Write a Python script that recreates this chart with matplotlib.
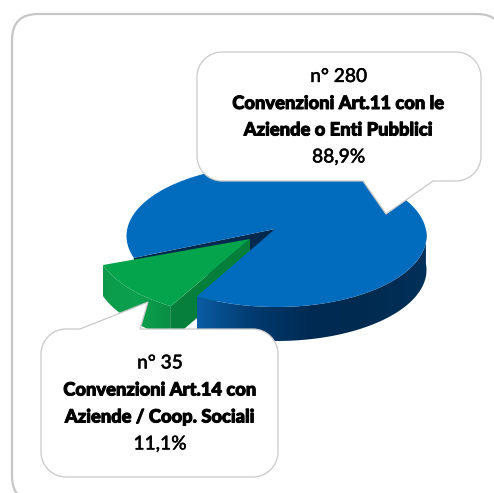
import numpy as np
import matplotlib
matplotlib.use("Agg")
import matplotlib.pyplot as plt
import matplotlib.patheffects as pe
from matplotlib.patches import PathPatch, Polygon, FancyBboxPatch
from matplotlib.path import Path

labels_top = ["n° 280", "Convenzioni Art.11 con le", "Aziende o Enti Pubblici", "88,9%"]
labels_low = ["n° 35", "Convenzioni Art.14 con", "Aziende / Coop. Sociali", "11,1%"]
values = [280, 35]

W, H = 494, 493
CX, CY = 276.5, 236.0
RX, RY = 150.0, 71.0
DEPTH = 34.0
APEX = (275.0, 229.0)
START = 198.0  # angle where the small slice begins
# the pulled out slice is nearer to the viewer, so it comes out bigger
GREEN_APEX = (250.0, 239.0)
GREEN_RX, GREEN_RY = 156.0, 78.0
GREEN_START = 199.5
GREEN_DEPTH = 31.0


def rim(cx, cy, rx, ry, a0, a1, n=120):
    # angles run counter clockwise on the flat pie, y is down on screen
    t = np.radians(np.linspace(a0, a1, n))
    return np.column_stack([cx + rx * np.cos(t), cy - ry * np.sin(t)])


def gradient_fill(ax, pts, x0, x1, colors, zorder):
    poly = Polygon(pts, closed=True, fc="none", ec="none", transform=ax.transData)
    ax.add_patch(poly)
    cmap = matplotlib.colors.LinearSegmentedColormap.from_list("g", colors)
    grad = np.linspace(0, 1, 256).reshape(1, -1)
    im = ax.imshow(grad, cmap=cmap, extent=(x0, x1, H, 0), aspect="auto", zorder=zorder)
    im.set_clip_path(poly)
    ax.set_xlim(0, W)
    ax.set_ylim(H, 0)


def rounded_callout(ax, x0, y0, x1, y1, r, pointer, edge):
    # pointer = (start x, tip, end x), on the top or the bottom edge
    k = 0.55 * r
    p0, tip, p1 = pointer
    v = [(x0 + r, y0)]
    c = [Path.MOVETO]
    if edge == "top":
        v += [(p0, y0), tip, (p1, y0)]
        c += [Path.LINETO] * 3
    v += [(x1 - r, y0), (x1 - r + k, y0), (x1, y0 + r - k), (x1, y0 + r), (x1, y1 - r),
          (x1, y1 - r + k), (x1 - r + k, y1), (x1 - r, y1)]
    c += [Path.LINETO, Path.CURVE4, Path.CURVE4, Path.CURVE4, Path.LINETO,
          Path.CURVE4, Path.CURVE4, Path.CURVE4]
    if edge == "bottom":
        v += [(p1, y1), tip, (p0, y1)]
        c += [Path.LINETO] * 3
    v += [(x0 + r, y1), (x0 + r - k, y1), (x0, y1 - r + k), (x0, y1 - r), (x0, y0 + r),
          (x0, y0 + r - k), (x0 + r - k, y0), (x0 + r, y0)]
    c += [Path.LINETO, Path.CURVE4, Path.CURVE4, Path.CURVE4, Path.LINETO,
          Path.CURVE4, Path.CURVE4, Path.CURVE4]
    ax.add_patch(PathPatch(Path(v, c), fc="white", ec="#c9c9c9", lw=0.9, zorder=10))


def callout_text(ax, x, ys, lines):
    for i, (y, line) in enumerate(zip(ys, lines)):
        bold = i in (1, 2)
        # a thin stroke gets the text as heavy as the reference
        ax.text(x, y, line, ha="center", va="center", color="black", zorder=11,
                family="Lato", weight=900 if bold else "medium",
                fontsize=13.2 if bold else 13.8,
                path_effects=[pe.withStroke(linewidth=0.7 if bold else 0.25, foreground="black")])


fig = plt.figure(figsize=(W / 100, H / 100), dpi=100)
ax = fig.add_axes([0, 0, 1, 1])
ax.set_xlim(0, W)
ax.set_ylim(H, 0)
ax.axis("off")

# outer frame, runs off the picture on the right and at the bottom
ax.add_patch(FancyBboxPatch((12, 14), 491, 488, boxstyle="round,pad=0,rounding_size=26",
                            fc="white", ec="#c6c6c6", lw=1.6, zorder=1))

shares = np.array(values) / sum(values)
sweep = shares[1] * 360
a0, a1 = START, START + sweep
back = rim(CX, CY, RX, RY, a0, a0 + 1)[0]

# inside wall of the blue slice, shows in the notch
ax.add_patch(Polygon([APEX, back, back + [0, 30], np.array(APEX) + [0, DEPTH]],
                     fc="#04294f", ec="none", zorder=3))

# green slice walls
gx, gy = GREEN_APEX
grim = rim(gx, gy, GREEN_RX, GREEN_RY, GREEN_START, GREEN_START + sweep)
gside = np.vstack([grim, (grim + [0, GREEN_DEPTH])[::-1]])
gradient_fill(ax, gside, grim[:, 0].min(), grim[:, 0].max(), ["#0b9a4b", "#0ca24f", "#0a8d44"], 3.2)
tip = grim[-1]
ax.add_patch(Polygon([(gx, gy), tip, tip + [0, DEPTH], (gx, gy + DEPTH)],
                     fc="#067f3a", ec="none", zorder=3.4))

# blue slice: front wall, then the top
front = rim(CX, CY, RX, RY, a1, 365)
side = np.vstack([front, (front + [0, DEPTH])[::-1]])
gradient_fill(ax, side, front[:, 0].min(), front[:, 0].max(),
              ["#0a5ca3", "#013a6e", "#002a52", "#012b50", "#02305a"], 3.6)
top = np.vstack([[APEX], rim(CX, CY, RX, RY, a1, a0 + 360, n=300)])
ax.add_patch(Polygon(top, closed=True, fc="#016bbd", ec="none", zorder=4))

# green top
ax.add_patch(Polygon(np.vstack([[(gx, gy)], grim]), closed=True, fc="#03a44b", ec="none", zorder=5))

rounded_callout(ax, 197, 52, 481, 181, 25, (363, (386, 214), 433), "bottom")
rounded_callout(ax, 41, 329, 278, 477, 25, (80, (148, 302), 140), "top")
callout_text(ax, 338.5, [76.5, 103.5, 130, 157], labels_top)
callout_text(ax, 160, [363, 390, 417, 444], labels_low)

fig.savefig("out.png", dpi=100)
